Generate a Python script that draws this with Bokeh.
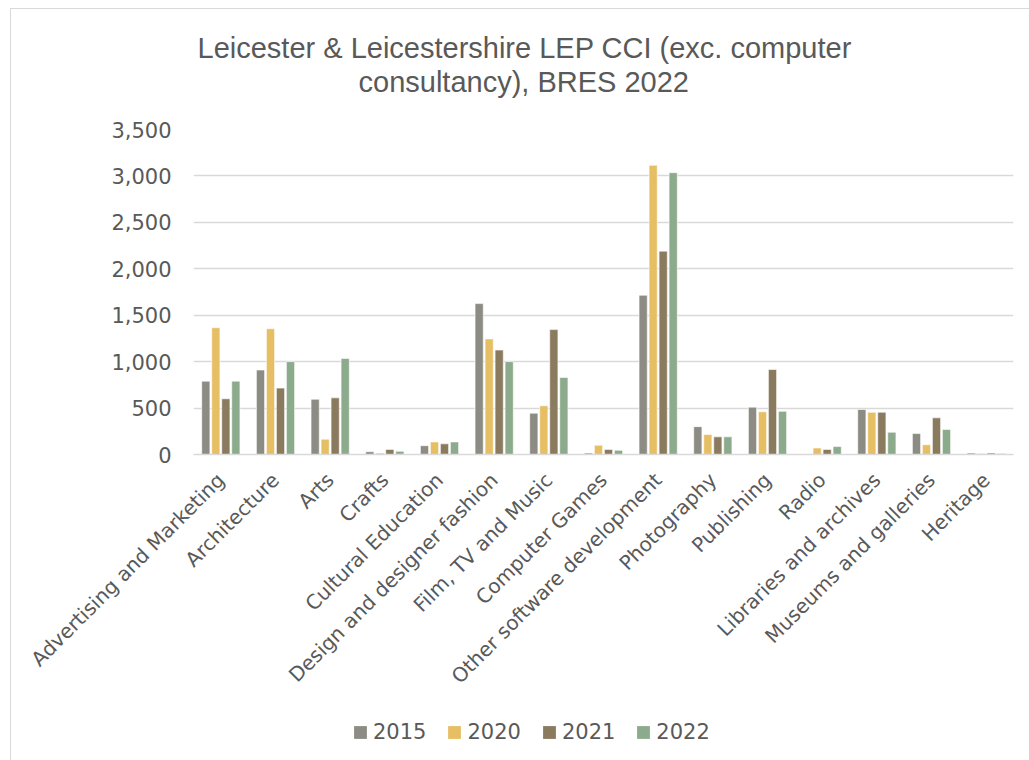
import math
from bokeh.plotting import figure
from bokeh.layouts import column
from bokeh.models import (ColumnDataSource, FactorRange, Range1d, Legend, LegendItem,
                          Title, NumeralTickFormatter, FixedTicker)
from bokeh.transform import dodge
from bokeh.embed import file_html
from bokeh.resources import INLINE

categories = ["Advertising and Marketing", "Architecture", "Arts", "Crafts",
              "Cultural Education", "Design and designer fashion", "Film, TV and Music",
              "Computer Games", "Other software development", "Photography",
              "Publishing", "Radio", "Libraries and archives", "Museums and galleries",
              "Heritage"]
years = ["2015", "2020", "2021", "2022"]
v2015 = [790, 910, 595, 30, 95, 1625, 445, 15, 1715, 300, 510, 0, 485, 225, 15]
v2020 = [1365, 1355, 165, 15, 135, 1245, 525, 100, 3115, 215, 460, 70, 455, 105, 10]
v2021 = [600, 715, 610, 55, 115, 1125, 1345, 55, 2190, 190, 915, 55, 455, 395, 15]
v2022 = [790, 1000, 1035, 35, 135, 1000, 830, 45, 3035, 190, 465, 85, 240, 270, 10]
colors = ["#8C8C84", "#E6BE64", "#8A7A5E", "#8CAA8C"]
title_line1 = "Leicester & Leicestershire LEP CCI (exc. computer"
title_line2 = "consultancy), BRES 2022"
y_ticks = [0, 500, 1000, 1500, 2000, 2500, 3000, 3500]

src = ColumnDataSource(dict(cat=categories, v2015=v2015, v2020=v2020, v2021=v2021, v2022=v2022))

TXT = "#595959"
H1 = 706
p = figure(x_range=FactorRange(*categories, range_padding=0), y_range=Range1d(0, 3500),
           width=1018, height=H1, output_backend="svg", toolbar_location=None,
           title=None, min_border_left=182, min_border_right=16, min_border_top=120,
           min_border_bottom=H1 - 120 - 325)
p.outline_line_color = None
p.background_fill_color = "white"
p.border_fill_color = "white"

spacer = Title(text=" ", text_font_size="1px", standoff=29)
t2 = Title(text=title_line2, align="left", offset=165, text_font="Liberation Sans",
           text_font_size="29px", text_font_style="normal", text_color=TXT, standoff=0)
t1 = Title(text=title_line1, align="left", offset=4, text_font="Liberation Sans",
           text_font_size="29px", text_font_style="normal", text_color=TXT, standoff=0)
p.add_layout(spacer, "above")
p.add_layout(t2, "above")
p.add_layout(t1, "above")

offsets = [-0.2745, -0.0915, 0.0915, 0.2745]
fields = ["v2015", "v2020", "v2021", "v2022"]
for f, off, c in zip(fields, offsets, colors):
    p.vbar(x=dodge("cat", off, range=p.x_range), top=f, width=0.15, source=src,
           fill_color=c, line_color="white", line_width=0.6)

p.xgrid.grid_line_color = None
p.ygrid.grid_line_color = "#D9D9D9"
p.ygrid.grid_line_width = 1.5
p.yaxis.ticker = FixedTicker(ticks=y_ticks)
p.yaxis.formatter = NumeralTickFormatter(format="0,0")
p.yaxis.axis_line_color = None
p.yaxis.major_tick_line_color = None
p.yaxis.minor_tick_line_color = None
p.yaxis.major_label_standoff = 16
p.yaxis.major_label_text_font = "DejaVu Sans"
p.yaxis.major_label_text_font_size = "21px"
p.yaxis.major_label_text_color = TXT

p.xaxis.axis_line_color = "#D9D9D9"
p.xaxis.axis_line_width = 1.5
p.xaxis.major_tick_line_color = None
p.xaxis.minor_tick_line_color = None
p.xaxis.major_label_orientation = math.pi / 4
p.xaxis.major_label_standoff = 16
p.xaxis.major_label_text_font = "DejaVu Sans"
p.xaxis.major_label_text_font_size = "20px"
p.xaxis.major_label_text_color = TXT

# legend strip below the chart (its frame is aligned with the chart's frame by the column)
H2 = 751 - H1
p2 = figure(width=1018, height=H2, output_backend="svg", toolbar_location=None,
            title=None, min_border=0, x_range=Range1d(0, 1), y_range=Range1d(0, 1))
p2.outline_line_color = None
p2.axis.visible = False
p2.grid.visible = False
p2.border_fill_color = "white"
p2.background_fill_color = "white"
dummy = []
for c in colors:
    # swatch-only renderers: zero-height bars below the visible range
    dummy.append(p2.vbar(x=[0.5], bottom=[-5], top=[-5], width=0.1, fill_color=c,
                         line_color=None))
legend = Legend(items=[LegendItem(label=y, renderers=[r]) for y, r in zip(years, dummy)],
                orientation="horizontal", location=(159, 16), glyph_width=16, glyph_height=16,
                label_standoff=5, spacing=20, padding=0, margin=0, border_line_color=None,
                label_text_font="DejaVu Sans", label_text_font_size="21px",
                label_text_color=TXT, background_fill_alpha=0)
p2.add_layout(legend, "center")

layout = column(p, p2, spacing=0)
layout.styles = {"margin-left": "10px", "margin-top": "8px",
                 "border-left": "1px solid #D9D9D9", "border-top": "1px solid #D9D9D9"}

open("out.html", "w").write(file_html(layout, INLINE))
